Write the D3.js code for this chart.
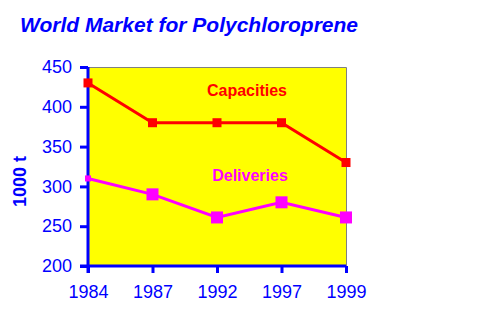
<!DOCTYPE html>
<html>
<head>
<meta charset="utf-8">
<script src="https://cdn.jsdelivr.net/npm/d3@7"></script>
<style>
  body { margin: 0; background: #fff; }
  text { font-family: "Liberation Sans", Arial, sans-serif; }
</style>
</head>
<body>
<div id="chart"></div>
<script>
const years = ["1984", "1987", "1992", "1997", "1999"];
const capacities = [430, 380, 380, 380, 330];
const deliveries = [310, 290, 261, 280, 261];
const yTicks = [200, 250, 300, 350, 400, 450];

const width = 491,
  height = 324;
const margin = { top: 67, right: 145, bottom: 58, left: 88 };

const svg = d3
  .select("#chart")
  .append("svg")
  .attr("width", width)
  .attr("height", height);

const x = d3
  .scalePoint()
  .domain(years)
  .range([margin.left, width - margin.right]);

const y = d3
  .scaleLinear()
  .domain([200, 450])
  .range([height - margin.bottom, margin.top]);

// plot area
svg
  .append("rect")
  .attr("x", margin.left)
  .attr("y", margin.top)
  .attr("width", width - margin.right - margin.left)
  .attr("height", height - margin.bottom - margin.top)
  .attr("fill", "#ffff00");

svg
  .append("path")
  .attr(
    "d",
    `M${margin.left},${margin.top + 0.5}H${width - margin.right + 0.5}V${height - margin.bottom}`
  )
  .attr("fill", "none")
  .attr("stroke", "#808080")
  .attr("stroke-width", 1);

// title
svg
  .append("text")
  .attr("x", 20)
  .attr("y", 32)
  .attr("fill", "#0000ff")
  .attr("font-size", 21)
  .attr("font-weight", "bold")
  .attr("font-style", "italic")
  .text("World Market for Polychloroprene");

// axes
const yAxis = svg
  .append("g")
  .attr("transform", `translate(${margin.left},0)`)
  .call(d3.axisLeft(y).tickValues(yTicks).tickSize(8).tickPadding(8));

const xAxis = svg
  .append("g")
  .attr("transform", `translate(0,${height - margin.bottom})`)
  .call(d3.axisBottom(x).tickSize(7).tickPadding(12));

for (const ax of [yAxis, xAxis]) {
  ax.select(".domain").remove();
  ax.selectAll("line").attr("stroke", "#0000ff").attr("stroke-width", 3);
  ax.selectAll("text")
    .attr("fill", "#0000ff")
    .attr("font-size", 18)
    .attr("font-family", "Liberation Sans, Arial, sans-serif");
}

// axis lines
svg
  .append("line")
  .attr("x1", margin.left)
  .attr("x2", margin.left)
  .attr("y1", margin.top)
  .attr("y2", height - margin.bottom + 7)
  .attr("stroke", "#0000ff")
  .attr("stroke-width", 3);

svg
  .append("line")
  .attr("x1", margin.left - 8)
  .attr("x2", width - margin.right)
  .attr("y1", height - margin.bottom)
  .attr("y2", height - margin.bottom)
  .attr("stroke", "#0000ff")
  .attr("stroke-width", 3);

// y title
svg
  .append("text")
  .attr("transform", `translate(26,${(margin.top + height - margin.bottom) / 2 + 15}) rotate(-90)`)
  .attr("text-anchor", "middle")
  .attr("fill", "#0000ff")
  .attr("font-size", 18)
  .attr("font-weight", "bold")
  .text("1000 t");

const line = d3
  .line()
  .x((d, i) => x(years[i]))
  .y((d) => y(d));

// capacities
svg
  .append("path")
  .datum(capacities)
  .attr("d", line)
  .attr("fill", "none")
  .attr("stroke", "#ff0000")
  .attr("stroke-width", 3);

svg
  .append("g")
  .selectAll("rect")
  .data(capacities)
  .join("rect")
  .attr("x", (d, i) => x(years[i]) - 4.5)
  .attr("y", (d) => y(d) - 4.5)
  .attr("width", 9)
  .attr("height", 9)
  .attr("fill", "#ff0000");

// deliveries
svg
  .append("path")
  .datum(deliveries)
  .attr("d", line)
  .attr("fill", "none")
  .attr("stroke", "#ff00ff")
  .attr("stroke-width", 3);

svg
  .append("g")
  .selectAll("rect")
  .data(deliveries)
  .join("rect")
  .attr("x", (d, i) => x(years[i]) - (i === 0 ? 3 : 6))
  .attr("y", (d, i) => y(d) - (i === 0 ? 3 : 6))
  .attr("width", (d, i) => (i === 0 ? 6 : 12))
  .attr("height", (d, i) => (i === 0 ? 6 : 12))
  .attr("fill", "#ff00ff");

// series labels
svg
  .append("text")
  .attr("x", 247)
  .attr("y", 96)
  .attr("text-anchor", "middle")
  .attr("fill", "#ff0000")
  .attr("font-size", 16)
  .attr("font-weight", "bold")
  .text("Capacities");

svg
  .append("text")
  .attr("x", 250)
  .attr("y", 181)
  .attr("text-anchor", "middle")
  .attr("fill", "#ff00ff")
  .attr("font-size", 16)
  .attr("font-weight", "bold")
  .text("Deliveries");
</script>
</body>
</html>
